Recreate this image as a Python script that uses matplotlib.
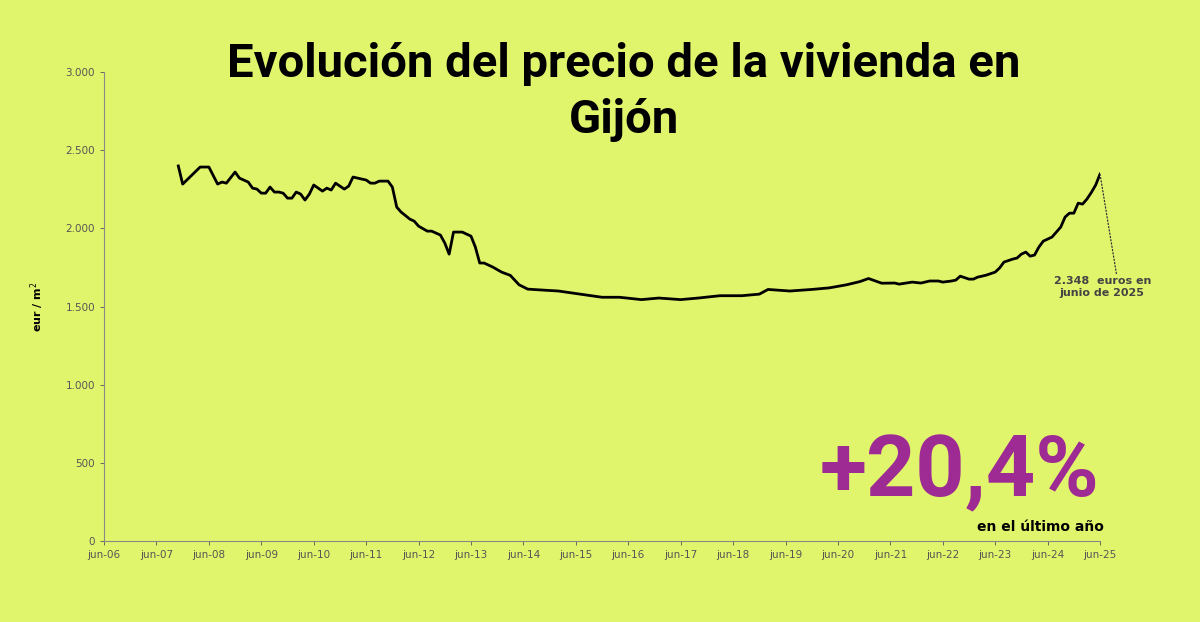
import matplotlib
matplotlib.use("Agg")
import matplotlib.pyplot as plt

months = [17,18,22,24,26,27,28,30,31,33,34,35,36,37,38,39,40,41,42,43,44,45,46,47,48,50,51,52,53,55,56,57,59,60,61,62,63,65,66,67,68,70,71,72,74,75,77,78,79,80,82,84,85,86,87,89,91,93,95,97,101,104,109,114,118,123,127,132,136,141,146,150,152,157,162,166,170,173,175,178,181,182,185,187,189,191,192,194,195,196,198,199,200,201,202,204,205,206,208,209,210,211,212,213,214,215,217,218,219,220,221,222,223,224,225,226,227,228]
prices = [2400,2284,2393,2393,2284,2297,2290,2361,2322,2297,2258,2252,2226,2226,2265,2233,2233,2226,2194,2194,2233,2220,2182,2220,2278,2239,2258,2246,2290,2252,2271,2329,2316,2310,2290,2290,2303,2303,2265,2137,2105,2060,2047,2015,1983,1983,1958,1907,1836,1977,1977,1951,1881,1779,1779,1753,1721,1700,1640,1612,1605,1600,1580,1560,1560,1545,1555,1545,1555,1570,1570,1580,1610,1600,1610,1620,1640,1660,1680,1650,1651,1644,1657,1651,1664,1664,1657,1664,1670,1695,1676,1676,1689,1695,1702,1721,1747,1785,1804,1811,1836,1849,1823,1830,1881,1919,1945,1977,2009,2073,2098,2098,2162,2156,2188,2230,2278,2348]
tick_labels = ["jun-%02d" % y for y in range(6, 26)]
yticks = [0, 500, 1000, 1500, 2000, 2500, 3000]
ytick_labels = ["0", "500", "1.000", "1.500", "2.000", "2.500", "3.000"]

bg = "#e1f56c"
fig = plt.figure(figsize=(12, 6.22), dpi=100, facecolor=bg)
ax = fig.add_axes([0.0867, 0.130, 0.83, 0.754], facecolor=bg)
ax.plot(months, prices, color="black", lw=2.0)
ax.set_xlim(0, 228)
ax.set_ylim(0, 3000)
ax.set_xticks(range(0, 229, 12))
ax.set_xticklabels(tick_labels)
ax.set_yticks(yticks)
ax.set_yticklabels(ytick_labels)
ax.tick_params(colors="#555555", labelsize=7.5, length=3, width=0.6)
for s in ["top", "right"]:
    ax.spines[s].set_visible(False)
for s in ["left", "bottom"]:
    ax.spines[s].set_color("#888888")
    ax.spines[s].set_linewidth(0.8)
ax.set_ylabel("eur / m$^2$", fontsize=8, fontweight="bold", labelpad=14)

fig.text(0.52, 0.852, "Evolución del precio de la vivienda en\nGijón", ha="center", va="center",
         fontsize=34, fontweight="bold", family="Roboto", linespacing=1.35)
fig.text(0.8, 0.24, "+20,4%", ha="center", va="center", fontsize=62, fontweight="bold",
         color="#9e2a94", family="Roboto")
fig.text(0.92, 0.152, "en el último año", ha="right", va="center", fontsize=10, fontweight="bold")
ax.annotate("2.348  euros en\njunio de 2025", xy=(months[-1], prices[-1]), xytext=(228.5, 1625),
            ha="center", va="center", fontsize=8, fontweight="bold", color="#444444",
            annotation_clip=False,
            arrowprops=dict(arrowstyle="-", ls=":", color="#333333", lw=0.9,
                            shrinkA=0, shrinkB=0, relpos=(0.65, 1.0)))
fig.savefig("out.png", facecolor=bg)
